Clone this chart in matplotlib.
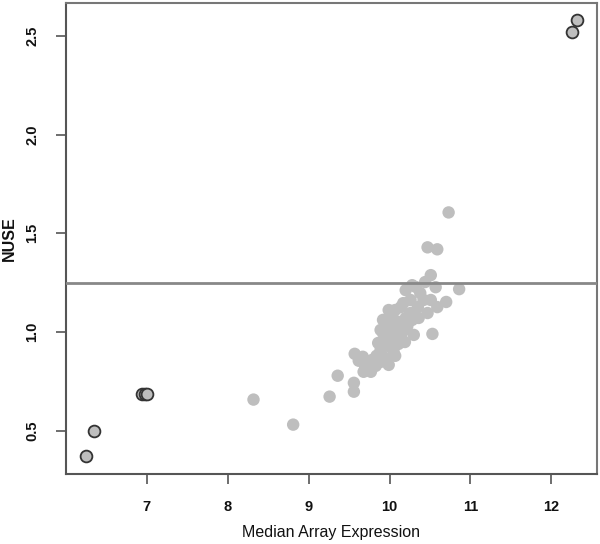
import numpy as np
import matplotlib
matplotlib.use('Agg')
import matplotlib.pyplot as plt

plt.rcParams['font.family'] = ['Liberation Sans', 'DejaVu Sans']

# Arrays flagged as outliers (dark ring, gray fill)
outX = [6.247, 6.346, 6.94, 6.975, 7.01, 12.25, 12.32]
outY = [0.369, 0.500, 0.687, 0.687, 0.687, 2.520, 2.581]

# Remaining arrays
goodX = [8.32, 8.81, 9.26, 9.36, 9.57, 9.56, 9.56, 9.68, 9.73, 9.79,
         9.70, 9.84, 9.89, 9.99, 9.94, 9.86, 9.92, 9.92, 10.01, 10.05,
         9.98, 10.07, 10.14, 10.11, 10.19, 10.22, 10.26, 10.14, 10.30, 10.35,
         10.17, 10.38, 10.33, 10.51, 10.47, 10.59, 10.57, 10.51, 10.70, 10.86,
         10.53, 10.47, 10.59, 10.73, 10.04, 10.20, 10.07, 10.26, 10.42, 10.44,
         9.77, 9.83, 9.89, 9.96, 10.02, 10.11, 10.19, 10.28, 10.36, 10.07,
         9.89, 9.62, 9.67, 9.99, 10.20, 10.28]
goodY = [0.657, 0.530, 0.672, 0.778, 0.889, 0.742, 0.697, 0.798, 0.833, 0.859,
         0.818, 0.879, 0.909, 0.833, 0.869, 0.944, 0.995, 1.061, 0.960, 0.899,
         0.929, 1.010, 0.975, 1.051, 1.010, 1.030, 1.096, 1.126, 0.985, 1.126,
         1.146, 1.197, 1.227, 1.162, 1.096, 1.126, 1.227, 1.288, 1.152, 1.217,
         0.990, 1.429, 1.419, 1.606, 1.071, 1.071, 1.111, 1.162, 1.162, 1.253,
         0.798, 0.828, 0.848, 0.980, 1.030, 0.939, 0.949, 1.061, 1.071, 0.879,
         1.010, 0.854, 0.874, 1.111, 1.212, 1.237]

cutoff = 1.25

fig = plt.figure(figsize=(6, 5.44), dpi=100)
ax = fig.add_axes([0.11, 0.129, 0.885, 0.866])

ax.scatter(goodX, goodY, s=80, color='#bebebe', edgecolors='none', zorder=2)
ax.scatter(outX, outY, s=72, color='#bebebe', edgecolors='#333333', linewidths=1.3, zorder=3)
ax.axhline(cutoff, color='#888888', lw=2, zorder=4)

# R style 4% padding
allX = outX + goodX
allY = outY + goodY
rx = max(allX) - min(allX)
ry = max(allY) - min(allY)
ax.set_xlim(min(allX) - 0.04 * rx, max(allX) + 0.04 * rx)
ax.set_ylim(min(allY) - 0.04 * ry, max(allY) + 0.04 * ry)

ax.set_xticks([7, 8, 9, 10, 11, 12])
ax.set_yticks([0.5, 1.0, 1.5, 2.0, 2.5])
ax.set_yticklabels(['0.5', '1.0', '1.5', '2.0', '2.5'], rotation=90, va='center')
for lab in ax.get_xticklabels() + ax.get_yticklabels():
    lab.set_fontweight('bold')

for s in ax.spines.values():
    s.set_color('#777777')
    s.set_linewidth(1.5)
ax.spines['left'].set_color('#555555')
ax.spines['bottom'].set_color('#555555')

ax.tick_params(length=7, width=1.2, color='#555555', labelsize=10.5, labelcolor='#111111', pad=12)
ax.set_xlabel('Median Array Expression', fontsize=11.5, labelpad=8, color='#111111')
ax.set_ylabel('NUSE', fontsize=11.5, fontweight='bold', labelpad=6, color='#111111')

fig.savefig('out.png', dpi=100)
